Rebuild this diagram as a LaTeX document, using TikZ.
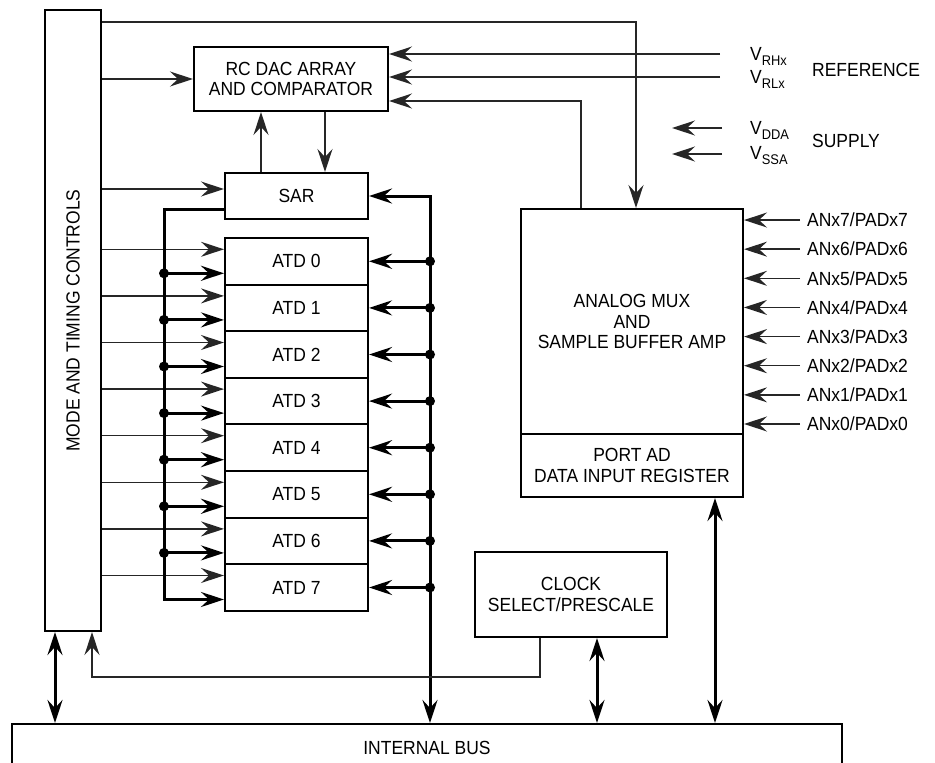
\documentclass[tikz,border=0pt]{standalone}
\usepackage{fontspec}
\setmainfont{Liberation Sans}[FakeStretch=0.92]
\usetikzlibrary{arrows.meta,positioning,calc}
\tikzset{
  >={Stealth[length=23pt,width=15pt,inset=8pt]},
  blk/.style={draw,line width=2pt,fill=white,inner sep=2pt,align=center},
  thinl/.style={line width=1.5pt,draw=black!85},
  thickl/.style={line width=3pt,draw=black},
  lab/.style={inner sep=0pt,anchor=west},
  jn/.style={fill=black}
}
\newcommand{\vsub}[1]{V\raisebox{-5pt}{\fontsize{14}{14}\selectfont #1}}

\begin{document}
\begin{tikzpicture}[x=1pt,y=-1pt,font=\fontsize{19}{20.5}\selectfont]
  \clip (0,0) rectangle (935,763);
  % blocks
  \node[blk,minimum width=56,minimum height=621] (mode) at (73,320.5) {};
  \node[rotate=90] (modetxt) at (mode.center) {MODE AND TIMING CONTROLS};
  \node[blk,minimum width=194,minimum height=64] (dac) at (291,79) {RC DAC ARRAY\\AND COMPARATOR};
  \node[blk,minimum width=143,minimum height=46] (sar) at (296.5,196) {SAR};
  \foreach \i in {0,...,7}
    \node[blk,minimum width=143,minimum height=46.6] (atd\i) at (296.5,{261.3+46.6*\i}) {ATD \i};
  \node[blk,minimum width=222,minimum height=225] (mux) at (632,321.5) {ANALOG MUX\\AND\\SAMPLE BUFFER AMP};
  \node[blk,minimum width=222,minimum height=63] (port) at (632,465.5) {PORT AD\\DATA INPUT REGISTER};
  \node[blk,minimum width=192,minimum height=85] (clock) at (571,594.5) {CLOCK\\SELECT/PRESCALE};
  \node[blk,minimum width=830,minimum height=48] (bus) at (427,748) {INTERNAL BUS};

  % reference and supply pins
  \coordinate (toprt) at (636,22);
  \coordinate (vrh) at (720,54); \coordinate (vrl) at (720,77);
  \coordinate (fb) at (581,101);
  \coordinate (vdd) at (722,128); \coordinate (vddend) at (672,128);
  \coordinate (vss) at (722,154); \coordinate (vssend) at (672,154);
  \node[lab] (vrhlab) at (750,56) {\vsub{RHx}};
  \node[lab] (vrllab) at (750,79) {\vsub{RLx}};
  \node[lab] (reflab) at (812,70) {REFERENCE};
  \node[lab] (vddlab) at (750,130) {\vsub{DDA}};
  \node[lab] (vsslab) at (750,156) {\vsub{SSA}};
  \node[lab] (suplab) at (812,141) {SUPPLY};
  \draw[thinl,->] (mode.east |- toprt) -| (mux.north -| toprt);
  \draw[thinl,->] (vrh) -- (dac.east |- vrh);
  \draw[thinl,->] (vrl) -- (dac.east |- vrl);
  \draw[thinl,->] (mux.north -| fb) |- (dac.east |- fb);
  \draw[thinl,->] (vdd) -- (vddend);
  \draw[thinl,->] (vss) -- (vssend);

  % control into DAC and SAR
  \draw[thinl,->] (mode.east |- dac.west) -- (dac.west);
  \draw[thinl,->] (mode.east |- {$(sar.west)+(0,-7)$}) -- ($(sar.west)+(0,-7)$);
  \draw[thinl,->] ([xshift=-35.5]sar.north) -- ([xshift=-35.5]sar.north |- dac.south);
  \draw[thinl,->] ([xshift=28.5]sar.north |- dac.south) -- ([xshift=28.5]sar.north);

  % ATD registers
  \coordinate (lbus) at (164,209);
  \coordinate (rbus) at (430,197);
  \foreach \i in {0,...,7} {
    \coordinate (min\i) at ($(atd\i.west)+(0,-12)$);
    \coordinate (ain\i) at ($(atd\i.west)+(0,12)$);
    \coordinate (bdot\i) at (rbus |- atd\i.east);
    \draw[thinl,->] (mode.east |- min\i) -- (min\i);
    \draw[thickl,->] (bdot\i) -- (atd\i.east);
    \fill[jn] (bdot\i) circle[radius=5pt];
  }
  \foreach \i in {0,...,6} {
    \coordinate (adot\i) at (lbus |- ain\i);
    \draw[thickl,->] (adot\i) -- (ain\i);
    \fill[jn] (adot\i) circle[radius=5pt];
  }
  \draw[thickl,->] ($(sar.west)+(0,13)$) -| (lbus |- ain7) -- (ain7);
  \draw[thickl,<->] (sar.east) -| (rbus |- bus.north);

  % analog inputs
  \foreach \i in {0,...,7} {
    \coordinate (an\i) at (800,{424-29.14*\i});
    \draw[thinl,->] (an\i) -- (mux.east |- an\i);
    \node[lab] (anlab\i) at ([xshift=7]an\i) {ANx\i/PADx\i};
  }

  % bus connections
  \coordinate (clkret) at (92,677);
  \draw[thinl,->] ([xshift=-31]clock.south) |- (clkret) -- (mode.south -| clkret);
  \draw[thickl,<->] ([xshift=-18]mode.south) -- ([xshift=-18]mode.south |- bus.north);
  \draw[thickl,<->] ([xshift=26]clock.south) -- ([xshift=26]clock.south |- bus.north);
  \draw[thickl,<->] ([xshift=83]port.south) -- ([xshift=83]port.south |- bus.north);
\end{tikzpicture}
\end{document}
